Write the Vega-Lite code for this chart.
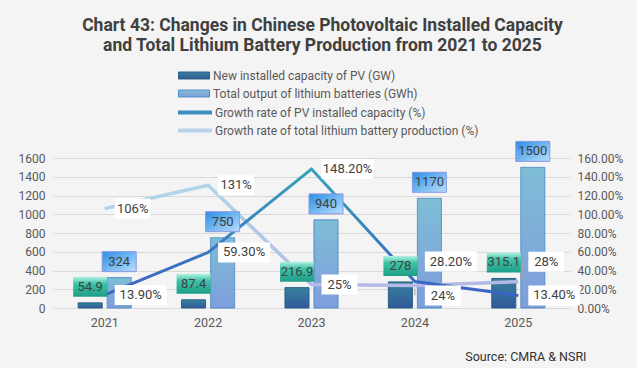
{
  "$schema": "https://vega.github.io/schema/vega-lite/v6.json",
  "autosize": {"type": "none"},
  "width": 517,
  "height": 150,
  "padding": {"left": 53, "top": 158, "right": 67, "bottom": 60},
  "background": "#f4f4f4",
  "config": {
    "font": "Roboto",
    "view": {"stroke": null},
    "axis": {"labelFont": "Roboto", "labelFontSize": 12, "labelColor": "#595959", "ticks": false, "domain": false, "grid": false, "title": null, "labelOverlap": false},
    "legend": {"orient": "none", "title": null, "padding": 0, "labelFont": "Roboto", "labelFontSize": 12, "labelColor": "#595959", "labelOffset": 3, "labelLimit": 400, "symbolSize": 961}
  },
  "title": {
    "text": ["Chart 43: Changes in Chinese Photovoltaic Installed Capacity", "and Total Lithium Battery Production from 2021 to 2025"],
    "font": "Roboto",
    "fontSize": 17.5,
    "fontWeight": "bold",
    "color": "#404040",
    "anchor": "middle",
    "frame": "group",
    "dx": 11,
    "offset": 5,
    "lineHeight": 20
  },
  "data": {
    "values": [
      {"year": "2021", "pv": 54.9, "li": 324, "pvg": 0.139, "lig": 1.06},
      {"year": "2022", "pv": 87.4, "li": 750, "pvg": 0.593, "lig": 1.31},
      {"year": "2023", "pv": 216.9, "li": 940, "pvg": 1.482, "lig": 0.25},
      {"year": "2024", "pv": 278, "li": 1170, "pvg": 0.282, "lig": 0.24},
      {"year": "2025", "pv": 315.1, "li": 1500, "pvg": 0.134, "lig": 0.28}
    ]
  },
  "encoding": {
    "x": {
      "field": "year", "type": "nominal", "sort": null,
      "scale": {"paddingInner": 0.487, "paddingOuter": 0.2435},
      "axis": {
        "labelAngle": 0, "labelPadding": 8, "labelFontSize": 12.5, "labelOverlap": false,
        "title": "Source: CMRA & NSRI", "titleX": 533, "titleY": 48, "titleAlign": "right", "titleBaseline": "middle",
        "titleAngle": 0, "titleFont": "Roboto", "titleFontSize": 12.5, "titleFontWeight": "normal", "titleColor": "#333333"
      }
    }
  },
  "layer": [
    {
      "layer": [
        {
          "mark": {
            "type": "bar", "strokeWidth": 1,
            "fill": {"gradient": "linear", "x1": 0, "y1": 0, "x2": 0, "y2": 1, "stops": [{"offset": 0, "color": "#36829c"}, {"offset": 1, "color": "#33599b"}]}
          },
          "encoding": {
            "xOffset": {"datum": "PV", "scale": {"domain": ["PV", "LI"], "paddingInner": 0.172, "paddingOuter": 0}},
            "y": {"field": "pv", "type": "quantitative", "scale": {"domain": [0, 1600], "nice": false},
              "axis": {"orient": "left", "values": [0, 200, 400, 600, 800, 1000, 1200, 1400, 1600], "tickCount": 20, "labelOverlap": false, "format": "d", "grid": true, "gridColor": "#d9d9d9", "labelPadding": 8}},
            "stroke": {
              "datum": "New installed capacity of PV (GW)", "type": "nominal",
              "scale": {"domain": ["New installed capacity of PV (GW)"], "range": ["#2b5f84"]},
              "legend": {"legendX": 125, "legendY": -98.5, "symbolType": "M-1,-0.225H1V0.225H-1Z", "symbolStrokeWidth": 1}
            }
          }
        },
        {
          "mark": {
            "type": "bar", "strokeWidth": 1, "stroke": "#4a8ac4",
            "fill": {"gradient": "linear", "x1": 0, "y1": 0, "x2": 0, "y2": 1, "stops": [{"offset": 0, "color": "#7ebdd6"}, {"offset": 1, "color": "#7f9edc"}]}
          },
          "encoding": {
            "xOffset": {"datum": "LI"},
            "y": {"field": "li", "type": "quantitative"},
            "strokeDash": {
              "datum": "Total output of lithium batteries (GWh)", "type": "nominal",
              "scale": {"domain": ["Total output of lithium batteries (GWh)"], "range": [[1, 0]]},
              "legend": {"legendX": 125, "legendY": -80.5, "symbolType": "M-1,-0.225H1V0.225H-1Z", "symbolStrokeWidth": 1}
            }
          }
        }
      ]
    },
    {
      "layer": [
        {
          "mark": {
            "type": "line", "strokeWidth": 3.5,
            "stroke": {"gradient": "linear", "x1": 0, "y1": 0, "x2": 0, "y2": 1, "stops": [{"offset": 0, "color": "#b0d6e8"}, {"offset": 1, "color": "#b4b9e6"}]}
          },
          "encoding": {
            "y": {"field": "lig", "type": "quantitative", "scale": {"domain": [0, 1.6], "nice": false},
              "axis": {"orient": "right", "values": [0, 0.2, 0.4, 0.6, 0.8, 1.0, 1.2, 1.4, 1.6], "tickCount": 20, "labelOverlap": false, "format": ".2%", "labelPadding": 7}},
            "opacity": {
              "datum": "Growth rate of total lithium battery production (%)", "type": "ordinal",
              "scale": {"domain": ["Growth rate of total lithium battery production (%)"], "range": [1, 1]},
              "legend": {"legendX": 125, "legendY": -44.5, "symbolType": "M-1,-0.03H1V0.03H-1Z", "symbolStrokeColor": "#b9d2ea", "symbolFillColor": "#b9d2ea", "symbolStrokeWidth": 3}
            }
          }
        },
        {
          "mark": {
            "type": "line",
            "stroke": {"gradient": "linear", "x1": 0, "y1": 0, "x2": 0, "y2": 1, "stops": [{"offset": 0, "color": "#38a3b8"}, {"offset": 1, "color": "#3d62c6"}]}
          },
          "encoding": {
            "y": {"field": "pvg", "type": "quantitative"},
            "strokeWidth": {
              "datum": "Growth rate of PV installed capacity (%)", "type": "ordinal",
              "scale": {"domain": ["Growth rate of PV installed capacity (%)"], "range": [3, 3]},
              "legend": {"legendX": 125, "legendY": -62.5, "symbolType": "M-1,-0.03H1V0.03H-1Z", "symbolStrokeColor": "#3a8fc0", "symbolFillColor": "#3a8fc0"}
            }
          }
        },
        {
          "transform": [{"filter": "datum.year == '2024'"}],
          "mark": {"type": "rule", "color": "#a6a6a6", "strokeWidth": 1, "yOffset": 3, "y2Offset": 10},
          "encoding": {
            "y": {"field": "lig", "type": "quantitative"},
            "y2": {"field": "lig"}
          }
        },
        {
          "transform": [{"filter": "datum.year == '2025'"}],
          "mark": {"type": "rule", "color": "#a6a6a6", "strokeWidth": 1, "xOffset": 4, "yOffset": -20, "y2Offset": -3},
          "encoding": {
            "y": {"field": "lig", "type": "quantitative"},
            "y2": {"field": "lig"}
          }
        },
        {
          "mark": {"type": "bar", "width": 52, "fill": "#ffffff", "xOffset": 36,
            "yOffset": {"expr": "datum.year == '2024' ? -30 : -10"},
            "y2Offset": {"expr": "datum.year == '2024' ? -10 : 10"}},
          "encoding": {
            "y": {"field": "pvg", "type": "quantitative"},
            "y2": {"field": "pvg"}
          }
        },
        {
          "mark": {"type": "text", "dx": 36, "fontSize": 13, "color": "#404040", "baseline": "middle", "align": "center",
            "dy": {"expr": "datum.year == '2024' ? -20 : 0"}},
          "encoding": {
            "y": {"field": "pvg", "type": "quantitative"},
            "text": {"field": "pvg", "type": "quantitative", "format": ".2%"}
          }
        },
        {
          "mark": {"type": "bar", "width": 36, "fill": "#ffffff", "xOffset": 28,
            "yOffset": {"expr": "datum.year == '2024' ? 0 : datum.year == '2025' ? -30 : -10"},
            "y2Offset": {"expr": "datum.year == '2024' ? 20 : datum.year == '2025' ? -10 : 10"}},
          "encoding": {
            "y": {"field": "lig", "type": "quantitative"},
            "y2": {"field": "lig"}
          }
        },
        {
          "mark": {"type": "text", "dx": 28, "fontSize": 13, "color": "#404040", "baseline": "middle", "align": "center",
            "dy": {"expr": "datum.year == '2024' ? 10 : datum.year == '2025' ? -20 : 0"}},
          "encoding": {
            "y": {"field": "lig", "type": "quantitative"},
            "text": {"field": "lig", "type": "quantitative", "format": ".0%"}
          }
        }
      ]
    },
    {
      "layer": [
        {
          "mark": {
            "type": "bar", "width": 34, "yOffset": -26, "y2Offset": -6,
            "fill": {"gradient": "linear", "x1": 0, "y1": 0, "x2": 0, "y2": 1, "stops": [{"offset": 0, "color": "#b4f2e2"}, {"offset": 0.35, "color": "#3cc2a6"}, {"offset": 1, "color": "#1f9e88"}]}
          },
          "encoding": {
            "xOffset": {"datum": "PV"},
            "y": {"field": "pv", "type": "quantitative", "scale": {"domain": [0, 1600], "nice": false}, "axis": null},
            "y2": {"field": "pv"}
          }
        },
        {
          "mark": {"type": "text", "dy": -16, "fontSize": 13, "color": "#404040", "baseline": "middle", "align": "center"},
          "encoding": {
            "xOffset": {"datum": "PV"},
            "y": {"field": "pv", "type": "quantitative"},
            "text": {"field": "pv", "type": "nominal"}
          }
        },
        {
          "mark": {
            "type": "bar", "width": 34, "yOffset": -26, "y2Offset": -6, "stroke": "#8a98e4", "strokeWidth": 1,
            "fill": {"gradient": "linear", "x1": 0, "y1": 0, "x2": 1, "y2": 1, "stops": [{"offset": 0, "color": "#2b8fe6"}, {"offset": 1, "color": "#b8defa"}]}
          },
          "encoding": {
            "xOffset": {"datum": "LI"},
            "y": {"field": "li", "type": "quantitative"},
            "y2": {"field": "li"}
          }
        },
        {
          "mark": {"type": "text", "dy": -16, "fontSize": 13, "color": "#404040", "baseline": "middle", "align": "center"},
          "encoding": {
            "xOffset": {"datum": "LI"},
            "y": {"field": "li", "type": "quantitative"},
            "text": {"field": "li", "type": "nominal"}
          }
        }
      ]
    }
  ],
  "resolve": {"scale": {"y": "independent"}}
}
